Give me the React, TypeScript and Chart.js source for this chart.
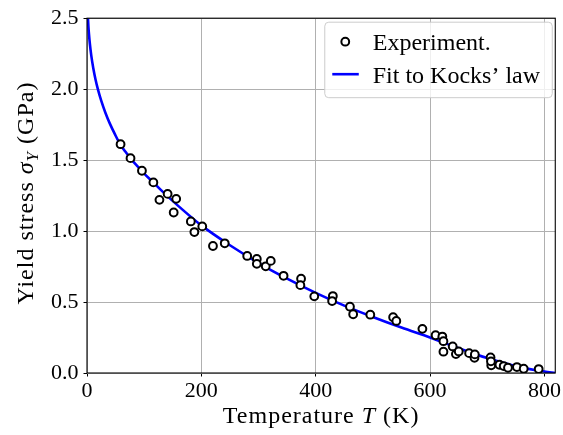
import React, { useEffect, useRef } from 'react';
import { Chart, registerables } from 'chart.js';

Chart.register(...registerables);

// Experimental points (temperature in K, yield stress in GPa)
const expT = [58.7, 76.1, 96.1, 116.1, 126.7, 141.0, 151.6, 156.0, 181.6, 187.8, 201.6, 220.3, 240.9, 280.2, 297.0, 297.0, 312.6, 321.4, 343.8, 374.4, 373.2, 397.5, 430.0, 428.7, 459.9, 465.5, 495.5, 535.4, 541.0, 586.6, 609.7, 621.5, 623.4, 623.4, 639.6, 645.2, 650.2, 668.3, 677.7, 678.3, 705.8, 707.0, 706.5, 721.3, 728.8, 736.3, 751.9, 763.8, 790.0];
const expS = [1.612, 1.514, 1.425, 1.343, 1.220, 1.262, 1.131, 1.227, 1.068, 0.993, 1.033, 0.895, 0.914, 0.825, 0.804, 0.769, 0.752, 0.790, 0.685, 0.664, 0.619, 0.540, 0.542, 0.507, 0.467, 0.414, 0.411, 0.393, 0.367, 0.311, 0.266, 0.257, 0.224, 0.150, 0.187, 0.133, 0.152, 0.140, 0.107, 0.131, 0.110, 0.054, 0.082, 0.058, 0.049, 0.037, 0.042, 0.030, 0.028];

// Fitted curve
const fitT = [1.7, 2.5, 3.5, 5, 7.5, 11, 15, 19, 25, 32, 40, 49, 58, 67, 76, 88, 100, 116, 130, 160, 200, 250, 300, 350, 400, 450, 500, 550, 600, 650, 700, 750, 800, 819];
const fitS = [2.5, 2.44, 2.386, 2.32, 2.236, 2.147, 2.066, 2.0, 1.917, 1.836, 1.757, 1.681, 1.612, 1.56, 1.512, 1.458, 1.405, 1.343, 1.287, 1.176, 1.04, 0.90, 0.775, 0.665, 0.565, 0.475, 0.395, 0.32, 0.25, 0.175, 0.105, 0.048, 0.01, 0];

const xTicks = [0, 200, 400, 600, 800];
const yTicks = [0, 0.5, 1.0, 1.5, 2.0, 2.5];
const xRange = [0, 819];
const yRange = [0, 2.5];

const legendLabels = ['Experiment.', 'Fit to Kocks\u2019 law'];
const xTitleParts = [
  { t: 'Temperature ', it: false, sub: false },
  { t: 'T', it: true, sub: false },
  { t: ' (K)', it: false, sub: false },
];
const yTitleParts = [
  { t: 'Yield stress ', it: false, sub: false },
  { t: '\u03c3', it: true, sub: false },
  { t: 'Y', it: true, sub: true },
  { t: ' (GPa)', it: false, sub: false },
];

const FAMILY = '"Liberation Serif", "Times New Roman", serif';
const BLUE = '#0000ff';

type Part = { t: string; it: boolean; sub: boolean };

function drawParts(ctx: CanvasRenderingContext2D, parts: Part[], cx: number, by: number, size: number, spacing: string) {
  const fontFor = (p: Part) => `${p.it ? 'italic ' : ''}${p.sub ? Math.round(size * 0.7) : size}px ${FAMILY}`;
  (ctx as any).letterSpacing = spacing;
  let total = 0;
  const widths = parts.map((p) => {
    ctx.font = fontFor(p);
    const w = ctx.measureText(p.t).width;
    total += w;
    return w;
  });
  let x = cx - total / 2;
  ctx.textBaseline = 'alphabetic';
  ctx.textAlign = 'left';
  parts.forEach((p, i) => {
    ctx.font = fontFor(p);
    ctx.fillText(p.t, x, by + (p.sub ? size * 0.22 : 0));
    x += widths[i];
  });
}

const decorPlugin = {
  id: 'decor',
  afterDatasetsDraw(chart: any) {
    const { ctx, chartArea: a } = chart;
    ctx.save();
    ctx.strokeStyle = '#000';
    ctx.lineWidth = 1.1;
    ctx.strokeRect(a.left, a.top, a.right - a.left, a.bottom - a.top);
    ctx.restore();
  },
  afterDraw(chart: any) {
    const { ctx, chartArea: a } = chart;
    ctx.save();
    ctx.fillStyle = '#000';
    // x title
    drawParts(ctx, xTitleParts, (a.left + a.right) / 2, a.bottom + 49.5, 24, '1px');
    // y title (rotated)
    ctx.save();
    ctx.translate(32.5, (a.top + a.bottom) / 2 - 2.5);
    ctx.rotate(-Math.PI / 2);
    drawParts(ctx, yTitleParts, 0, 0, 24, '1px');
    ctx.restore();

    // legend
    (ctx as any).letterSpacing = '0px';
    const bw = 227.5, bh = 75.5;
    const bx = a.right - 3.5 - bw, by = a.top + 3.5;
    ctx.beginPath();
    (ctx as any).roundRect(bx + 0.5, by + 0.5, bw, bh, 4);
    ctx.fillStyle = 'rgba(255,255,255,0.8)';
    ctx.fill();
    ctx.strokeStyle = '#cccccc';
    ctx.lineWidth = 1;
    ctx.stroke();

    const hx = bx + 8;
    const tx = bx + 48.5;
    // marker
    ctx.beginPath();
    ctx.arc(hx + 13, by + 20, 3.9, 0, Math.PI * 2);
    ctx.fillStyle = '#fff';
    ctx.fill();
    ctx.strokeStyle = '#000';
    ctx.lineWidth = 2;
    ctx.stroke();
    // line
    ctx.beginPath();
    ctx.moveTo(hx, by + 52.5);
    ctx.lineTo(hx + 26.5, by + 52.5);
    ctx.strokeStyle = BLUE;
    ctx.lineWidth = 2.6;
    ctx.stroke();
    ctx.fillStyle = '#000';
    ctx.font = `24px ${FAMILY}`;
    ctx.textBaseline = 'alphabetic';
    ctx.textAlign = 'left';
    ctx.fillText(legendLabels[0], tx, by + 28);
    ctx.fillText(legendLabels[1], tx, by + 61);
    ctx.restore();
  },
};

export default function App() {
  const ref = useRef<HTMLCanvasElement | null>(null);
  useEffect(() => {
    if (!ref.current) return;
    Chart.defaults.font.family = FAMILY;
    const chart = new Chart(ref.current, {
      type: 'scatter',
      data: {
        datasets: [
          {
            label: legendLabels[0],
            data: expT.map((t, i) => ({ x: t, y: expS[i] })),
            pointRadius: 3.9,
            pointBorderWidth: 2,
            pointBackgroundColor: '#ffffff',
            pointBorderColor: '#000000',
            showLine: false,
          },
          {
            label: legendLabels[1],
            data: fitT.map((t, i) => ({ x: t, y: fitS[i] })),
            showLine: true,
            pointRadius: 0,
            borderColor: BLUE,
            borderWidth: 2.6,
            cubicInterpolationMode: 'monotone',
            fill: false,
          } as any,
        ],
      },
      options: {
        animation: false,
        responsive: false,
        events: [],
        layout: { padding: { left: 0, right: 4, top: 16, bottom: 0 }, autoPadding: false } as any,
        plugins: { legend: { display: false }, tooltip: { enabled: false } },
        scales: {
          x: {
            type: 'linear',
            min: xRange[0],
            max: xRange[1],
            afterBuildTicks: (s: any) => { s.ticks = xTicks.map((v) => ({ value: v })); },
            afterFit: (s: any) => { s.height = 62; },
            grid: { color: '#b0b0b0', lineWidth: 1, tickColor: '#000', tickLength: 3.5, tickWidth: 1 },
            border: { display: false },
            ticks: {
              color: '#000',
              font: { size: 22, family: FAMILY },
              padding: 2,
              maxRotation: 0,
              autoSkip: false,
              callback: (v: any) => String(v),
            },
          },
          y: {
            type: 'linear',
            min: yRange[0],
            max: yRange[1],
            afterBuildTicks: (s: any) => { s.ticks = yTicks.map((v) => ({ value: v })); },
            afterFit: (s: any) => { s.width = 87; },
            grid: { color: '#b0b0b0', lineWidth: 1, tickColor: '#000', tickLength: 3.5, tickWidth: 1 },
            border: { display: false },
            ticks: {
              color: '#000',
              font: { size: 22, family: FAMILY },
              padding: 5,
              autoSkip: false,
              callback: (v: any) => Number(v).toFixed(1),
            },
          },
        },
      },
      plugins: [decorPlugin],
    });
    return () => chart.destroy();
  }, []);
  return (
    <div style={{ position: 'absolute', left: 0, top: 0, width: 563, height: 435, background: '#fff' }}>
      <canvas ref={ref} width={563} height={435} style={{ width: 563, height: 435, display: 'block' }} />
    </div>
  );
}
